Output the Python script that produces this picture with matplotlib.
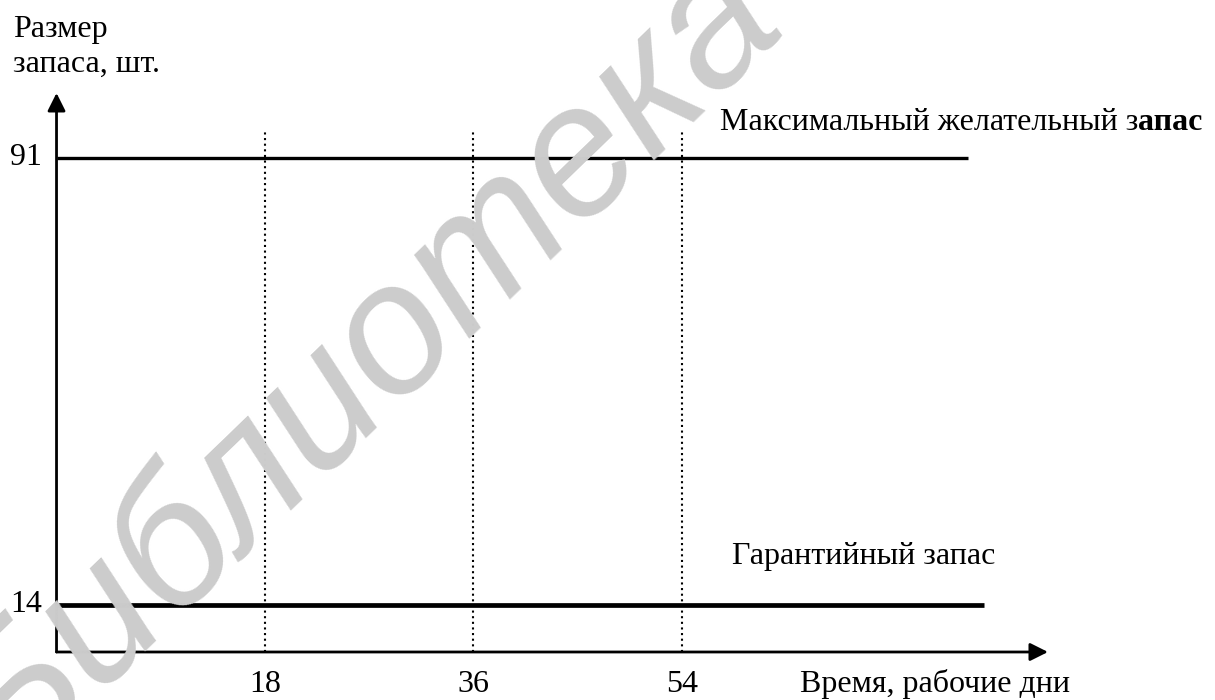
import matplotlib
matplotlib.use("Agg")
import matplotlib.pyplot as plt
from matplotlib import transforms

# ---- data ----
level_values = [91, 14]
level_names = ["Максимальный желательный запас", "Гарантийный запас"]
level_ends = [78.7, 80.1]
level_widths = [2.4, 3.4]
tick_days = [18, 36, 54]
dotted_top = 95.8
x_axis_level = 5.92
x_arrow_end = 85.6
y_arrow_end = 102.1
y_axis_title = ["Размер", "запаса, шт."]
x_axis_title = "Время, рабочие дни"
watermark = "Библиотека"

W, H = 1215, 700
fig = plt.figure(figsize=(W / 100, H / 100), dpi=100)
ax = fig.add_axes([0, 0, 1, 1])
ax.set_xlim(-4.88, 100.02)
ax.set_ylim(-2.34, 118.1)
ax.axis("off")

FONT = "Liberation Serif"
FS = 23

def fy(ypix):
    return 1 - ypix / H

def fx(xpix):
    return xpix / W

# watermark
fig.text(fx(366), fy(366), watermark, rotation=44, rotation_mode="anchor",
         ha="center", va="center", fontsize=133, color="#cccccc",
         family="Liberation Sans", style="italic", zorder=0)

# horizontal levels
for v, end, lw in zip(level_values, level_ends, level_widths):
    ax.plot([0, end], [v, v], color="black", lw=lw, solid_capstyle="butt", zorder=3)

# dotted verticals
for d in tick_days:
    ax.plot([d, d], [x_axis_level, dotted_top], color="black", lw=1.5,
            linestyle=(0, (1, 1.7)), zorder=3)

# axes with arrows
arrow = dict(arrowstyle="-|>,head_length=0.4,head_width=0.2", mutation_scale=27,
             lw=2.0, color="black", shrinkA=0, shrinkB=0)
ax.annotate("", xy=(x_arrow_end, x_axis_level), xytext=(0, x_axis_level),
            arrowprops=arrow, zorder=4)
ax.annotate("", xy=(0, y_arrow_end), xytext=(0, x_axis_level),
            arrowprops=arrow, zorder=4)

# y-axis title
fig.text(fx(13), fy(37), y_axis_title[0], fontsize=FS, family=FONT, va="baseline")
fig.text(fx(13), fy(72), y_axis_title[1], fontsize=FS, family=FONT, va="baseline")

# y level labels
fig.text(fx(42), fy(165), str(level_values[0]), fontsize=FS, family=FONT,
         ha="right", va="baseline")
fig.text(fx(42), fy(612), str(level_values[1]), fontsize=FS, family=FONT,
         ha="right", va="baseline")

# x tick labels
blend = transforms.blended_transform_factory(ax.transData, fig.transFigure)
for d in tick_days:
    ax.text(d, fy(692), str(d), transform=blend, fontsize=FS, family=FONT,
            ha="center", va="baseline")

fig.text(fx(800), fy(692), x_axis_title, fontsize=FS, family=FONT, va="baseline")

# level names
t1 = fig.text(fx(720), fy(137.5), "Максимальный желательный з", fontsize=FS,
              family=FONT, va="bottom")
ax.annotate("апас", xy=(1, 0), xycoords=t1, fontsize=FS, family=FONT,
            fontweight="bold", va="bottom", ha="left")
fig.text(fx(732), fy(564), level_names[1], fontsize=FS, family=FONT, va="baseline")

fig.savefig("out.png", dpi=100)
